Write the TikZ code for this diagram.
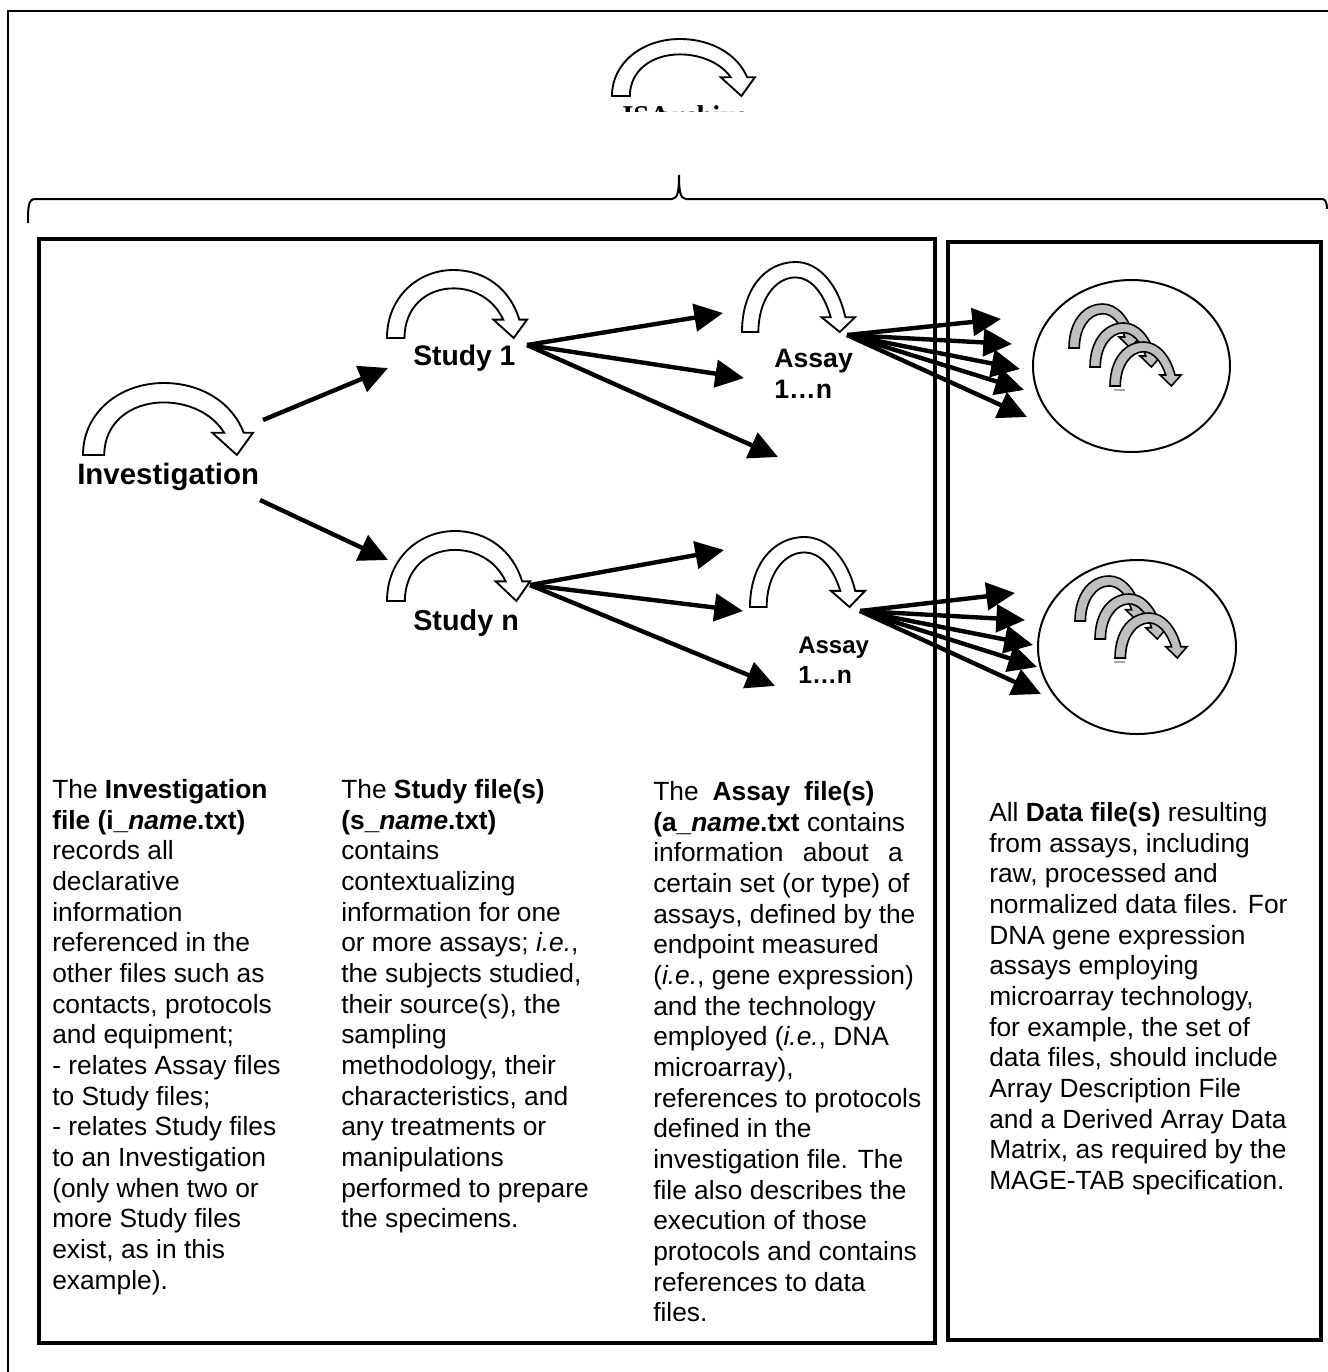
\documentclass[tikz,border=0pt]{standalone}
\usepackage{fontspec}
\setmainfont{Liberation Sans}
\newfontfamily\serifisa{Liberation Serif}
\usetikzlibrary{arrows.meta}
\tikzset{
  x=0.75pt,y=-0.75pt,
  framebox/.style={draw=black,line width=3pt,fill=none},
  bigarrow/.style={line width=3.3pt,-{Triangle[length=21.5pt,width=20.5pt]}},
  curvewhite/.style={draw=black,line width=1.4pt,fill=white,line join=miter},
  curvegray/.style={draw=black,line width=1.2pt,fill=black!25,line join=miter},
  lab/.style={anchor=base west,inner sep=0pt,font=\bfseries},
  bodytext/.style={anchor=north west,inner sep=0pt,align=left,font=\fontsize{19.76pt}{23pt}\selectfont},
  ellipsebox/.style={draw=black,line width=1.5pt,fill=white},
}
\newcommand{\curvarr}[6]{% style, x, y (foot bottom), w, h, barb v
  \begin{scope}[shift={(#2,#3)},x=#4*0.75pt,y=#5*0.75pt]
    \path[#1] (0,0) .. controls (0,.6) and (.22,1) .. (.475,1)
      .. controls (.70,1) and (.88,.72) .. (.945,#6) -- (1,#6) -- (.905,0) -- (.76,#6) -- (.83,#6)
      .. controls (.76,.58) and (.62,.73) .. (.475,.73)
      .. controls (.28,.73) and (.125,.45) .. (.125,0) -- cycle;
  \end{scope}}
\newcommand{\curvarrb}[6]{% narrower variant with a thinner band
  \begin{scope}[shift={(#2,#3)},x=#4*0.75pt,y=#5*0.75pt]
    \path[#1] (0,0) .. controls (0,.6) and (.2,1) .. (.475,1)
      .. controls (.68,1) and (.85,.68) .. (.915,#6) -- (1,#6) -- (.865,0) -- (.705,#6) -- (.785,#6)
      .. controls (.72,.58) and (.60,.78) .. (.475,.78)
      .. controls (.29,.78) and (.145,.45) .. (.145,0) -- cycle;
  \end{scope}}
\begin{document}
\begin{tikzpicture}
\useasboundingbox (0,0) rectangle (1328,1372);
% outer frame
\draw[draw=black,line width=1.5pt] (8,11) rectangle (1340,1384);
\clip (0,0) rectangle (1328,1372);
% brace
\draw[line width=1.5pt] (28,223) .. controls (28,208) and (28,199) .. (35,199) -- (672,199)
  .. controls (678,199) and (679,190) .. (679,175) .. controls (679,190) and (680,199) .. (686,199)
  -- (1322,199) .. controls (1325,199) and (1327,202) .. (1327,209);
% boxes
\draw[framebox] (39,239) rectangle (935,1343);
\draw[framebox] (948,241.5) rectangle (1321,1340);
% circles
\draw[ellipsebox] (1131.5,366) ellipse [x radius=98.5,y radius=86];
\draw[ellipsebox] (1137,647) ellipse [x radius=99,y radius=87];
% ISA clipped title
\begin{scope}
  \clip (560,96) rectangle (800,111.5);
  \node[anchor=base west,inner sep=0pt,font=\serifisa\bfseries\fontsize{21.5pt}{24pt}\selectfont] (isa) at (622,125) {ISA\kern-15pt{} archive};
\end{scope}
% curved arrows
\curvarr{curvewhite}{612}{96}{143}{57}{.33}
\curvarr{curvewhite}{83}{455}{170}{72}{.31}
\curvarr{curvewhite}{387}{338}{140}{68}{.27}
\curvarr{curvewhite}{387}{601}{143}{70}{.28}
\curvarrb{curvewhite}{742}{332}{113}{70}{.21}
\curvarrb{curvewhite}{750}{607}{115}{70}{.23}
\curvarrb{curvegray}{1069}{348}{71}{44}{.25}
\curvarrb{curvegray}{1090}{367}{71}{44}{.25}
\curvarrb{curvegray}{1110}{386}{71}{44}{.25}
\curvarrb{curvegray}{1075}{621}{72}{45}{.25}
\curvarrb{curvegray}{1095}{639}{72}{45}{.25}
\curvarrb{curvegray}{1115}{658}{72}{45}{.25}
\draw[gray!70,line width=0.8pt] (1114,390) -- (1125,390);
\draw[gray!70,line width=0.8pt] (1114,662) -- (1125,662);
% labels
\node[lab,font=\bfseries\fontsize{22.1pt}{26pt}\selectfont] (inv) at (77,484) {Investigation};
\node[lab,font=\bfseries\fontsize{21.2pt}{26pt}\selectfont] (s1) at (413,365) {Study 1};
\node[lab,font=\bfseries\fontsize{21.6pt}{26pt}\selectfont] (sn) at (413,630) {Study n};
\node[lab,font=\bfseries\fontsize{20pt}{26pt}\selectfont] (a1) at (774,367) {Assay};
\node[lab,font=\bfseries\fontsize{20pt}{26pt}\selectfont] (a1b) at (774,398) {1…n};
\node[lab,font=\bfseries\fontsize{18pt}{26pt}\selectfont] (an) at (798,653) {Assay};
\node[lab,font=\bfseries\fontsize{18.6pt}{26pt}\selectfont] (anb) at (798,683) {1…n};
% arrow coordinates
\coordinate (invUp) at (263,420);
\coordinate (invDown) at (260,500);
\coordinate (toS1) at (388,368);
\coordinate (toSn) at (388,560);
\coordinate (s1o) at (527,345);
\coordinate (s1t1) at (723,313);
\coordinate (s1t2) at (744,378);
\coordinate (s1t3) at (778,457);
\coordinate (sno) at (530,585);
\coordinate (snt1) at (724,550);
\coordinate (snt2) at (743,611);
\coordinate (snt3) at (775,686);
\coordinate (a1o) at (847,335);
\coordinate (a1t1) at (1001,319);
\coordinate (a1t2) at (1012,344);
\coordinate (a1t3) at (1020,369);
\coordinate (a1t4) at (1024,390);
\coordinate (a1t5) at (1027,417);
\coordinate (ano) at (860,611);
\coordinate (ant1) at (1015,593);
\coordinate (ant2) at (1025,620);
\coordinate (ant3) at (1033,645);
\coordinate (ant4) at (1037,667);
\coordinate (ant5) at (1041,694);
\draw[bigarrow] (invUp) -- (toS1);
\draw[bigarrow] (invDown) -- (toSn);
\foreach \t in {s1t1,s1t2,s1t3} \draw[bigarrow] (s1o) -- (\t);
\foreach \t in {snt1,snt2,snt3} \draw[bigarrow] (sno) -- (\t);
\foreach \t in {a1t1,a1t2,a1t3,a1t4,a1t5} \draw[bigarrow] (a1o) -- (\t);
\foreach \t in {ant1,ant2,ant3,ant4,ant5} \draw[bigarrow] (ano) -- (\t);
% body text
\node[bodytext] (c1) at (52,779) {The \textbf{Investigation}\\\textbf{file (i\_\textit{name}.txt)}\\records all\\declarative\\information\\referenced in the\\other files such as\\contacts, protocols\\and equipment;\\- relates Assay files\\to Study files;\\- relates Study files\\to an Investigation\\(only when two or\\more Study files\\exist, as in this\\example).};
\node[bodytext] (c2) at (341,779) {The \textbf{Study file(s)}\\\textbf{(s\_\textit{name}.txt)}\\contains\\contextualizing\\information for one\\or more assays; \textit{i.e.},\\the subjects studied,\\their source(s), the\\sampling\\methodology, their\\characteristics, and\\any treatments or\\manipulations\\performed to prepare\\the specimens.};
\node[bodytext] (c3) at (653,781) {The\hspace{5pt} \textbf{Assay\hspace{5pt} file(s)}\\\textbf{(a\_\textit{name}.txt} contains\\information\hspace{9pt} about\hspace{9pt} a\\certain set (or type) of\\assays, defined by the\\endpoint measured\\(\textit{i.e.}, gene expression)\\and the technology\\employed (\textit{i.e.}, DNA\\microarray),\\references to protocols\\defined in the\\investigation file. The\\file also describes the\\execution of those\\protocols and contains\\references to data\\files.};
\node[bodytext] (c4) at (989,802) {All \textbf{Data file(s)} resulting\\from assays, including\\raw, processed and\\normalized data files. For\\DNA gene expression\\assays employing\\microarray technology,\\for example, the set of\\data files, should include\\Array Description File\\and a Derived Array Data\\Matrix, as required by the\\MAGE-TAB specification.};
\end{tikzpicture}
\end{document}
